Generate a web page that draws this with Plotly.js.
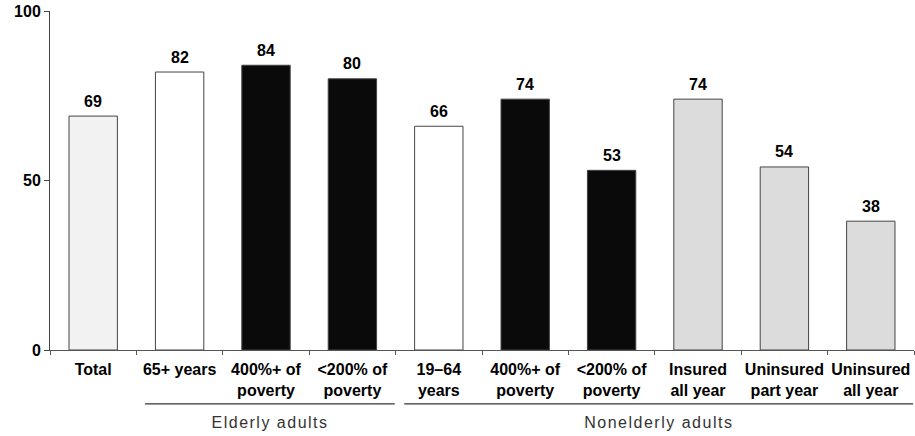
<!DOCTYPE html>
<html>
<head>
<meta charset="utf-8">
<script src="https://cdn.plot.ly/plotly-3.0.1.min.js"></script>
<style>
html,body{margin:0;padding:0;background:#fff;}
#chart{width:915px;height:436px;}
.annotation.grp .annotation-text{letter-spacing:1.5px;}
</style>
</head>
<body>
<div id="chart"></div>
<script>
const categories = ["Total", "65+ years", "400%+ of<br>poverty", "&lt;200% of<br>poverty", "19–64<br>years", "400%+ of<br>poverty", "&lt;200% of<br>poverty", "Insured<br>all year", "Uninsured<br>part year", "Uninsured<br>all year"];
const values = [69, 82, 84, 80, 66, 74, 53, 74, 54, 38];
const fills = ["#f2f2f2", "#ffffff", "#0a0a0a", "#0a0a0a", "#ffffff", "#0a0a0a", "#0a0a0a", "#dcdcdc", "#dcdcdc", "#dcdcdc"];
const yTicks = [0, 50, 100];
const groups = [
  {name: "Elderly adults", from: 1, to: 3},
  {name: "Nonelderly adults", from: 4, to: 9}
];

const idx = categories.map((_, i) => i);
const boundaries = [];
for (let i = 0; i <= categories.length; i++) boundaries.push(i - 0.5);

const font = {family: "Liberation Sans, Arial, sans-serif", size: 16, color: "#000", weight: "bold"};

const trace = {
  type: "bar",
  x: idx,
  y: values,
  marker: {color: fills, line: {color: "#444", width: 1}},
  hoverinfo: "skip",
  showlegend: false
};
const dummy = {type: "scatter", x: [0], y: [0], xaxis: "x2", mode: "markers", marker: {opacity: 0}, hoverinfo: "skip", showlegend: false};

const shapes = [];
const annotations = [];
values.forEach((v, i) => {
  annotations.push({xref: "x", yref: "y", x: i, y: v, text: String(v), showarrow: false, yanchor: "middle", yshift: 15, font: font});
});
groups.forEach(g => {
  shapes.push({type: "line", xref: "x", yref: "paper", x0: g.from - 0.4, x1: g.to + 0.49, y0: -0.159, y1: -0.159, line: {color: "#000", width: 1}});
  annotations.push({xref: "x", yref: "paper", x: (g.from - 0.4 + g.to + 0.49) / 2, y: -0.215, text: g.name, showarrow: false, yanchor: "middle",
    font: {family: "Liberation Sans, Arial, sans-serif", size: 16, color: "#333"}});
});

const layout = {
  width: 915, height: 436,
  margin: {l: 50, r: 1, t: 11, b: 86},
  paper_bgcolor: "#fff", plot_bgcolor: "#fff",
  bargap: 0.44,
  xaxis: {range: [-0.5, 9.5], tickmode: "array", tickvals: idx, ticktext: categories, ticks: "outside", ticklen: 5, tickcolor: "rgba(0,0,0,0)",
    showgrid: false, zeroline: false, showline: false, tickfont: font, fixedrange: true},
  xaxis2: {range: [-0.5, 9.5], overlaying: "x", side: "bottom", anchor: "y", tickmode: "array", tickvals: boundaries, ticks: "outside", ticklen: 4,
    tickcolor: "#555", tickwidth: 1, showticklabels: false, showgrid: false, zeroline: false, showline: true, linecolor: "#555", linewidth: 1},
  yaxis: {range: [0, 100], tickmode: "array", tickvals: yTicks, ticks: "outside", ticklen: 5, tickcolor: "#444", showline: true, linecolor: "#444",
    linewidth: 1, showgrid: false, zeroline: false, tickfont: font},
  shapes: shapes,
  annotations: annotations
};

Plotly.newPlot("chart", [trace, dummy], layout, {displayModeBar: false, staticPlot: true}).then(() => {
  document.querySelectorAll(".annotation").forEach(a => {
    const t = a.querySelector(".annotation-text");
    if (t && /adults/.test(t.textContent)) t.style.letterSpacing = "1.5px";
  });
});
</script>
</body>
</html>
